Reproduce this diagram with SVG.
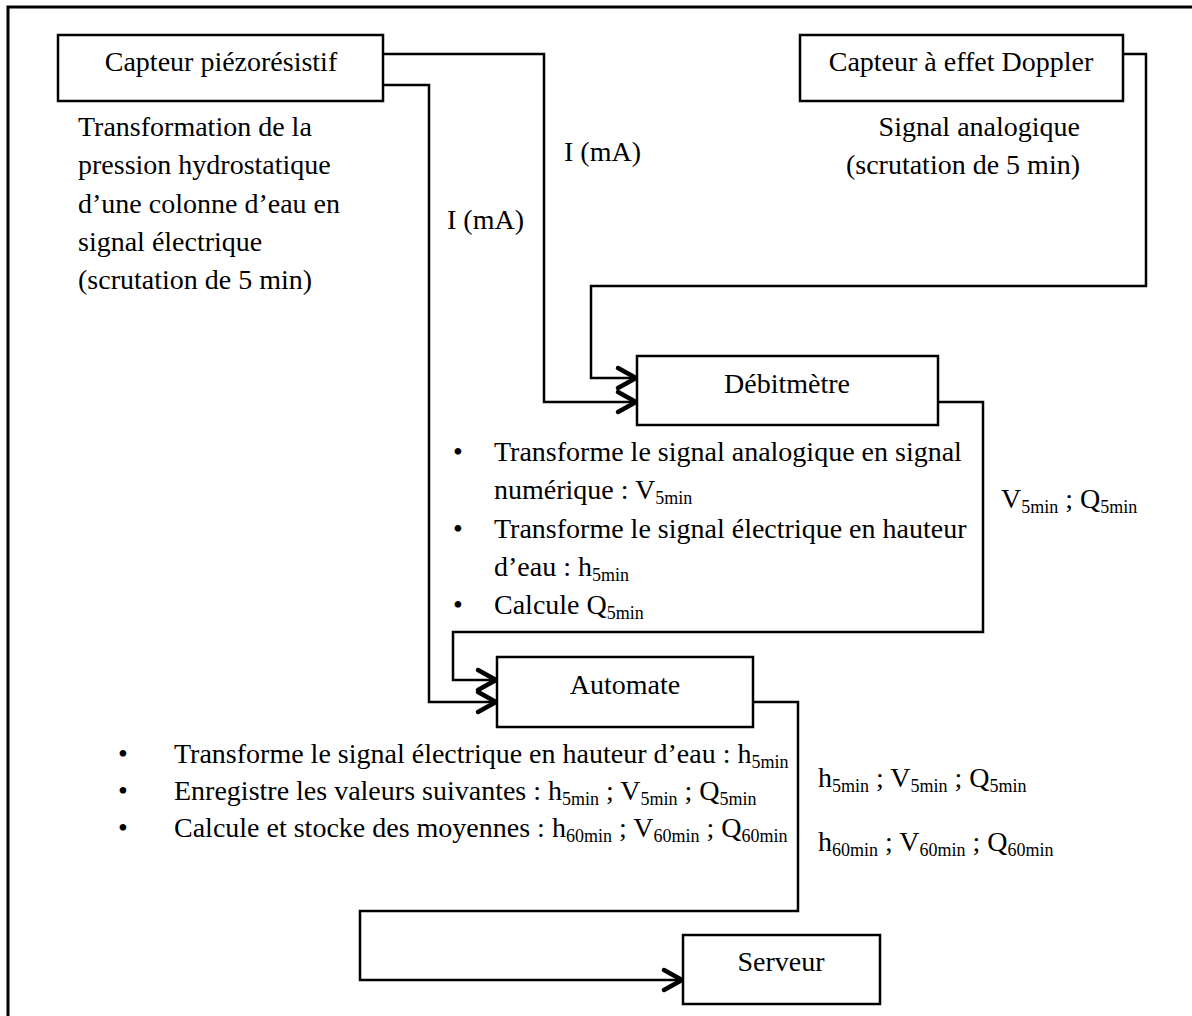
<svg xmlns="http://www.w3.org/2000/svg" width="1192" height="1016" viewBox="0 0 1192 1016">
<style>
text{font-family:"Liberation Serif","Times New Roman",serif;font-size:28px;fill:#000}
.box{fill:#fff;stroke:#000;stroke-width:2.5}
.c{text-anchor:middle}
.conn{fill:none;stroke:#000;stroke-width:2.5;stroke-linejoin:miter}
.s{font-size:18px}
</style>
<defs>
<marker id="arr" markerUnits="userSpaceOnUse" markerWidth="30" markerHeight="30" viewBox="-25 -15 30 30" refX="0" refY="0" orient="auto" overflow="visible">
<path d="M-19,-10 L-1,0 L-19,10" fill="none" stroke="#000" stroke-width="4.5" stroke-linecap="round" stroke-linejoin="round"/>
</marker>
</defs>
<rect x="8" y="7" width="1190" height="1015" fill="#fff" stroke="#000" stroke-width="3"/>

<g id="connectors">
<path class="conn" d="M383,54 H544 V402 H637" marker-end="url(#arr)"/>
<path class="conn" d="M383,85 H429 V702 H497" marker-end="url(#arr)"/>
<path class="conn" d="M1123,54 H1146 V286 H591 V378 H637" marker-end="url(#arr)"/>
<path class="conn" d="M938,402 H983 V632 H453 V680 H497" marker-end="url(#arr)"/>
<path class="conn" d="M753,702 H798 V911 H360 V980 H683" marker-end="url(#arr)"/>
</g>

<g id="capteur-piezo">
<rect class="box" x="58" y="35" width="325" height="66"/>
<text class="c" x="221" y="71">Capteur piézorésistif</text>
</g>
<g id="capteur-piezo-desc">
<text x="78" y="136">Transformation de la</text>
<text x="78" y="174">pression hydrostatique</text>
<text x="78" y="213">d’une colonne d’eau en</text>
<text x="78" y="251">signal électrique</text>
<text x="78" y="289">(scrutation de 5 min)</text>
</g>

<g id="capteur-doppler">
<rect class="box" x="800" y="35" width="323" height="66"/>
<text class="c" x="961" y="71">Capteur à effet Doppler</text>
</g>
<g id="capteur-doppler-desc">
<text x="1080" y="136" text-anchor="end">Signal analogique</text>
<text x="1080" y="174" text-anchor="end">(scrutation de 5 min)</text>
</g>

<g id="labels">
<text x="564" y="161">I (mA)</text>
<text x="447" y="229">I (mA)</text>
<text x="1001" y="508">V<tspan class="s" dy="5">5min</tspan><tspan dy="-5"> ; Q</tspan><tspan class="s" dy="5">5min</tspan></text>
<text x="818" y="787">h<tspan class="s" dy="5">5min</tspan><tspan dy="-5"> ; V</tspan><tspan class="s" dy="5">5min</tspan><tspan dy="-5"> ; Q</tspan><tspan class="s" dy="5">5min</tspan></text>
<text x="818" y="851">h<tspan class="s" dy="5">60min</tspan><tspan dy="-5"> ; V</tspan><tspan class="s" dy="5">60min</tspan><tspan dy="-5"> ; Q</tspan><tspan class="s" dy="5">60min</tspan></text>
</g>

<g id="debitmetre">
<rect class="box" x="637" y="356" width="301" height="69"/>
<text class="c" x="787" y="393">Débitmètre</text>
</g>
<g id="debitmetre-desc">
<text x="453" y="461">•</text>
<text x="494" y="461">Transforme le signal analogique en signal</text>
<text x="494" y="499">numérique : V<tspan class="s" dy="5">5min</tspan></text>
<text x="453" y="538">•</text>
<text x="494" y="538">Transforme le signal électrique en hauteur</text>
<text x="494" y="576">d’eau : h<tspan class="s" dy="5">5min</tspan></text>
<text x="453" y="614">•</text>
<text x="494" y="614">Calcule Q<tspan class="s" dy="5">5min</tspan></text>
</g>

<g id="automate">
<rect class="box" x="497" y="657" width="256" height="70"/>
<text class="c" x="625" y="694">Automate</text>
</g>
<g id="automate-desc">
<text x="118" y="763">•</text>
<text x="174" y="763">Transforme le signal électrique en hauteur d’eau : h<tspan class="s" dy="5">5min</tspan></text>
<text x="118" y="800">•</text>
<text x="174" y="800">Enregistre les valeurs suivantes : h<tspan class="s" dy="5">5min</tspan><tspan dy="-5"> ; V</tspan><tspan class="s" dy="5">5min</tspan><tspan dy="-5"> ; Q</tspan><tspan class="s" dy="5">5min</tspan></text>
<text x="118" y="837">•</text>
<text x="174" y="837">Calcule et stocke des moyennes : h<tspan class="s" dy="5">60min</tspan><tspan dy="-5"> ; V</tspan><tspan class="s" dy="5">60min</tspan><tspan dy="-5"> ; Q</tspan><tspan class="s" dy="5">60min</tspan></text>
</g>

<g id="serveur">
<rect class="box" x="683" y="935" width="197" height="69"/>
<text class="c" x="781" y="971">Serveur</text>
</g>
</svg>
